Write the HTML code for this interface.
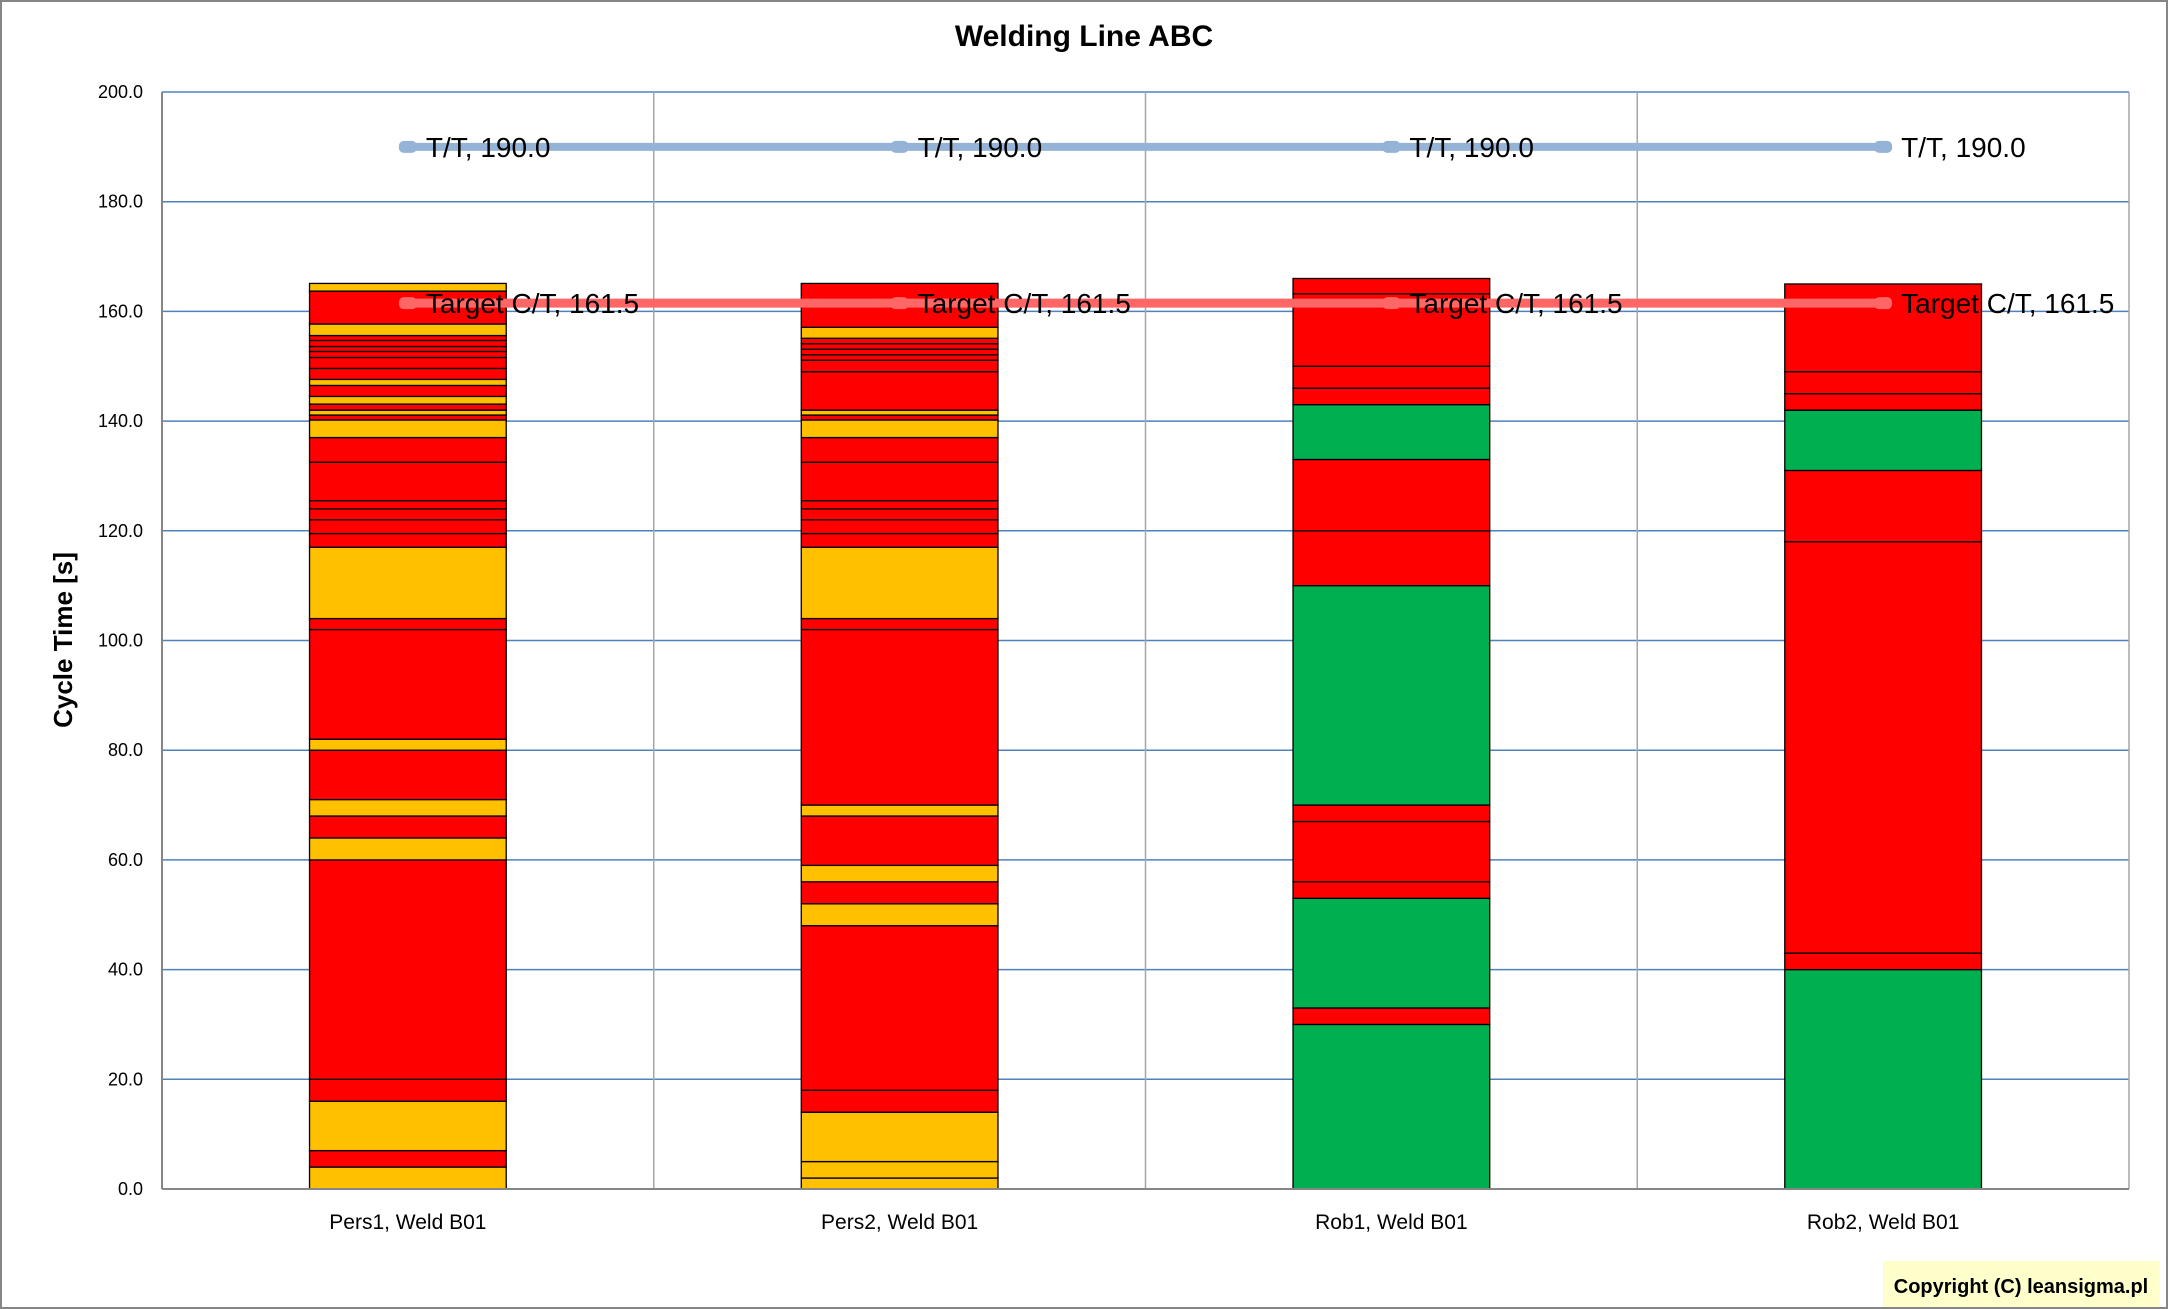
<!DOCTYPE html>
<html><head><meta charset="utf-8"><style>
html,body{margin:0;padding:0;background:#fff}
svg{display:block}
text{font-family:"Liberation Sans",sans-serif}
</style></head><body>
<svg id="chart" width="2168" height="1309" viewBox="0 0 2168 1309" xmlns="http://www.w3.org/2000/svg">
<rect x="1" y="1" width="2166" height="1307" fill="#fff" stroke="#868686" stroke-width="2"/>
<text x="1084" y="46" text-anchor="middle" font-size="30" font-weight="bold">Welding Line ABC</text>
<text transform="translate(72,640) rotate(-90)" text-anchor="middle" font-size="26" font-weight="bold">Cycle Time [s]</text>
<g id="grid"></g>
<g id="bars"></g>
<g id="lines"></g>
<g id="axes"></g>
<rect x="1883" y="1261" width="277" height="46" fill="#FFFFCC"/>
<text x="2021" y="1293" text-anchor="middle" font-size="20" font-weight="bold">Copyright (C) leansigma.pl</text>
</svg>
<script>
const categories = ["Pers1, Weld B01","Pers2, Weld B01","Rob1, Weld B01","Rob2, Weld B01"];
const yTicks = [0,20,40,60,80,100,120,140,160,180,200];
const bar1Values = [4,3,9,4,40,4,4,3,9,2,20,2,13,2.5,2.5,2,1.5,7,4.5,3.2,0.9,0.9,1.1,1.4,2,1.1,2,2,1.1,0.9,1.1,0.9,2.1,6,1.4];
const bar1Colors = "YRYRRYRYRYRRYRRRRRRYRYRYRYRRRRRRYRY";
const bar2Values = [2,3,9,4,30,4,4,3,9,2,32,2,13,2.5,2.5,2,1.5,7,4.5,3.2,0.9,0.9,7,2.1,1,1,1,1,2,8];
const bar2Colors = "YYYRRYRYRYRRYRRRRRRYRYRRRRRRYR";
const bar3Values = [30,3,20,3,11,3,40,10,13,10,3,4,13.2,2.8];
const bar3Colors = "GRGRRRGRRGRRRR";
const bar4Values = [40,3,75,13,11,3,4,16];
const bar4Colors = "GRRRGRRR";
const ttValues = [190,190,190,190];
const targetValues = [161.5,161.5,161.5,161.5];

const NS="http://www.w3.org/2000/svg";
const L=162,R=2129,T=92,B=1189,YMAX=200;
const catW=(R-L)/categories.length;
const xC=i=>L+catW*(i+0.5);
const y=v=>B-(B-T)*v/YMAX;
const colMap={R:"#FF0000",Y:"#FFC000",G:"#00B050"};
function mk(tag,attrs,parent){const e=document.createElementNS(NS,tag);for(const k in attrs)e.setAttribute(k,attrs[k]);parent.appendChild(e);return e;}
const grid=document.getElementById('grid'),bars=document.getElementById('bars'),lines=document.getElementById('lines'),axes=document.getElementById('axes');

yTicks.forEach(t=>{
  if(t>0){const g=mk('line',{x1:L,x2:R,y1:y(t),y2:y(t),stroke:'#4F81BD','stroke-width':1.5},grid);
  
  }
  const tx=mk('text',{x:L-19,y:y(t)+6,'text-anchor':'end','font-size':18},axes);
  tx.textContent=t.toFixed(1);
  
  
});
for(let i=1;i<categories.length;i++){
  const v=mk('line',{x1:L+catW*i,x2:L+catW*i,y1:T,y2:B,stroke:'#A6A6A6','stroke-width':1.5},grid);
  
  
}
const rb=mk('line',{x1:R,x2:R,y1:T,y2:B,stroke:'#A6A6A6','stroke-width':1.5},grid);


const ya=mk('line',{x1:L,x2:L,y1:T,y2:B,stroke:'#868686','stroke-width':2},axes);


const xa=mk('line',{x1:L,x2:R,y1:B,y2:B,stroke:'#868686','stroke-width':2},axes);



const allVals=[bar1Values,bar2Values,bar3Values,bar4Values];
const allCols=[bar1Colors,bar2Colors,bar3Colors,bar4Colors];
const bw=catW*0.4;
allVals.forEach((vals,i)=>{
  let acc=0;
  vals.forEach((v,j)=>{
    const r=mk('rect',{x:xC(i)-bw/2,y:y(acc+v),width:bw,height:y(acc)-y(acc+v),fill:colMap[allCols[i][j]],stroke:'#000','stroke-width':1.3},bars);
    
    
    acc+=v;
  });
  const lb=mk('text',{x:xC(i),y:1229,'text-anchor':'middle','font-size':21},axes);
  lb.textContent=categories[i];
  
  
});

function series(vals,color,w,label,name){
  const pts=vals.map((v,i)=>xC(i)+','+y(v)).join(' ');
  const pl=mk('polyline',{points:pts,fill:'none',stroke:color,'stroke-width':w},lines);
  
  
  vals.forEach((v,i)=>{
    const m=mk('rect',{x:xC(i)-9,y:y(v)-6,width:18,height:12,rx:5,fill:color},lines);
    
    
    const t=mk('text',{x:xC(i)+18,y:y(v)+10,'font-size':28},lines);
    t.textContent=label+', '+v.toFixed(1);
    
    
  });
}
series(ttValues,'#95B3D7',8,'T/T','tt');
series(targetValues,'#FF6666',9,'Target C/T','target-ct');
</script>
</body></html>
